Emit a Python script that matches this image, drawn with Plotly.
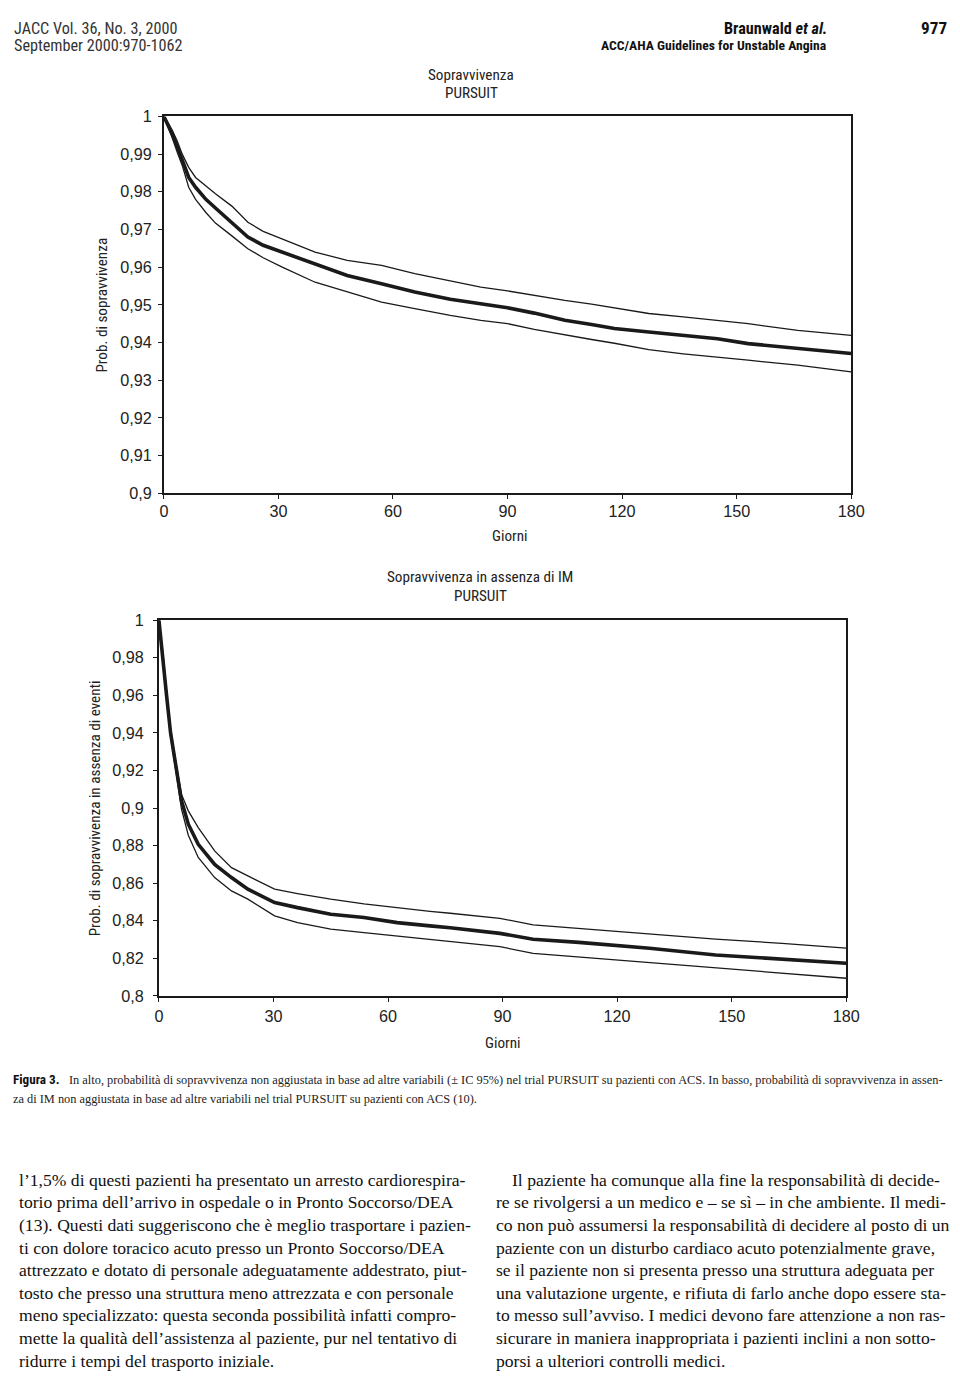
import plotly.graph_objects as go

W, H = 960, 1376

# ---------------- data ----------------
top_days = [0, 1, 2.2, 3.5, 4.8, 6.5, 8.3, 11, 13.5, 17.8, 22, 26, 31, 39.6, 48, 57,
            65.7, 75, 83, 90, 97, 105, 112, 118, 127, 136, 145, 153, 166, 180]
top_mean = [1.0, 0.998, 0.9953, 0.992, 0.9887, 0.9838, 0.9812, 0.978, 0.9757, 0.9717,
            0.968, 0.9658, 0.964, 0.961, 0.9578, 0.9556, 0.9534, 0.9515, 0.9503, 0.9492,
            0.9478, 0.9459, 0.9448, 0.9437, 0.9428, 0.9419, 0.941, 0.9397, 0.9384, 0.9371]
top_upper = [1.0, 0.9985, 0.9963, 0.9935, 0.990, 0.9865, 0.9838, 0.9815, 0.9795, 0.9762,
             0.9719, 0.9695, 0.9675, 0.964, 0.9618, 0.9605, 0.9583, 0.9563, 0.9547, 0.9537,
             0.9525, 0.9512, 0.9502, 0.9492, 0.9477, 0.9468, 0.9459, 0.945, 0.9432, 0.9419]
top_lower = [1.0, 0.9975, 0.9943, 0.9905, 0.987, 0.9812, 0.978, 0.9745, 0.9717, 0.9683,
             0.9649, 0.9625, 0.960, 0.956, 0.9534, 0.9507, 0.949, 0.9472, 0.9459, 0.945,
             0.9435, 0.942, 0.9408, 0.9398, 0.9381, 0.937, 0.936, 0.9353, 0.934, 0.9322]

bot_days = [0, 0.5, 1.1, 2.0, 3.05, 4.6, 5.9, 7.7, 10.3, 14.6, 19, 23.3, 30.3, 36.3, 45,
            53.7, 62.4, 71, 76.3, 89.3, 98, 110, 119.8, 128.5, 145.8, 163.2, 180]
bot_mean = [1.0, 0.991, 0.98, 0.96, 0.94, 0.92, 0.904, 0.8914, 0.8807, 0.870, 0.863,
            0.8568, 0.8497, 0.847, 0.8435, 0.8417, 0.839, 0.8373, 0.8363, 0.8333, 0.8302,
            0.8285, 0.8271, 0.8254, 0.8218, 0.8195, 0.8174]
bot_upper = [1.0, 0.9915, 0.9815, 0.962, 0.942, 0.9225, 0.9074, 0.8985, 0.8896, 0.8772,
             0.8683, 0.8639, 0.8568, 0.8545, 0.8515, 0.849, 0.8468, 0.845, 0.844, 0.8413,
             0.8378, 0.8358, 0.8342, 0.833, 0.8302, 0.828, 0.8254]
bot_lower = [1.0, 0.9905, 0.9785, 0.958, 0.938, 0.9175, 0.8995, 0.8855, 0.8737, 0.863,
             0.8559, 0.8515, 0.8426, 0.839, 0.8355, 0.8337, 0.8318, 0.8298, 0.8289, 0.8262,
             0.8227, 0.8208, 0.8191, 0.8178, 0.8148, 0.812, 0.8094]

x_ticks = [0, 30, 60, 90, 120, 150, 180]
top_yticks = [0.9, 0.91, 0.92, 0.93, 0.94, 0.95, 0.96, 0.97, 0.98, 0.99, 1]
top_yticktext = ["0,9", "0,91", "0,92", "0,93", "0,94", "0,95", "0,96", "0,97", "0,98", "0,99", "1"]
bot_yticks = [0.8, 0.82, 0.84, 0.86, 0.88, 0.9, 0.92, 0.94, 0.96, 0.98, 1]
bot_yticktext = ["0,8", "0,82", "0,84", "0,86", "0,88", "0,9", "0,92", "0,94", "0,96", "0,98", "1"]

header_left = ["JACC Vol. 36, No. 3, 2000", "September 2000:970-1062"]
caption_lines = [
    "In alto, probabilità di sopravvivenza non aggiustata in base ad altre variabili (± IC 95%) nel trial PURSUIT su pazienti con ACS. In basso, probabilità di sopravvivenza in assen-",
    "za di IM non aggiustata in base ad altre variabili nel trial PURSUIT su pazienti con ACS (10).",
]
left_col = [
    "l’1,5% di questi pazienti ha presentato un arresto cardiorespira-",
    "torio prima dell’arrivo in ospedale o in Pronto Soccorso/DEA",
    "(13). Questi dati suggeriscono che è meglio trasportare i pazien-",
    "ti con dolore toracico acuto presso un Pronto Soccorso/DEA",
    "attrezzato e dotato di personale adeguatamente addestrato, piut-",
    "tosto che presso una struttura meno attrezzata e con personale",
    "meno specializzato: questa seconda possibilità infatti compro-",
    "mette la qualità dell’assistenza al paziente, pur nel tentativo di",
    "ridurre i tempi del trasporto iniziale.",
]
right_col = [
    "Il paziente ha comunque alla fine la responsabilità di decide-",
    "re se rivolgersi a un medico e – se sì – in che ambiente. Il medi-",
    "co non può assumersi la responsabilità di decidere al posto di un",
    "paziente con un disturbo cardiaco acuto potenzialmente grave,",
    "se il paziente non si presenta presso una struttura adeguata per",
    "una valutazione urgente, e rifiuta di farlo anche dopo essere sta-",
    "to messo sull’avviso. I medici devono fare attenzione a non ras-",
    "sicurare in maniera inappropriata i pazienti inclini a non sotto-",
    "porsi a ulteriori controlli medici.",
]

# ---------------- styling ----------------
SANS_N = "Liberation Sans Narrow, Roboto Condensed, Liberation Sans, Arial, sans-serif"
SANS = "Liberation Sans, Arial, sans-serif"
SERIF = "Liberation Serif, Times New Roman, serif"
INK = "#1a1a1a"

# the page is shown slightly scaled/offset; map target screen pixels to figure paper coords
SX, OX = 0.9855, 10.3
SY, OY = 0.9875, 16.5
PAD = 3.5  # annotation inner padding (px)


def fx(x):
    return ((x - OX) / SX) / W


def fy(y):
    return 1 - ((y - OY) / SY) / H


def fs(s):
    return s / SY


fig = go.Figure()

for xa, ya, d, m, u, l in [("x", "y", top_days, top_mean, top_upper, top_lower),
                           ("x2", "y2", bot_days, bot_mean, bot_upper, bot_lower)]:
    fig.add_trace(go.Scatter(x=d, y=u, mode="lines", line=dict(color=INK, width=1.3),
                             xaxis=xa, yaxis=ya, showlegend=False, hoverinfo="skip"))
    fig.add_trace(go.Scatter(x=d, y=l, mode="lines", line=dict(color=INK, width=1.3),
                             xaxis=xa, yaxis=ya, showlegend=False, hoverinfo="skip"))
    fig.add_trace(go.Scatter(x=d, y=m, mode="lines", line=dict(color=INK, width=3.6),
                             xaxis=xa, yaxis=ya, showlegend=False))

axis_common = dict(showline=True, linecolor=INK, linewidth=2, mirror=True,
                   ticks="outside", ticklen=4, tickcolor=INK, tickwidth=1,
                   showgrid=False, zeroline=False,
                   tickfont=dict(family=SANS, size=fs(16), color="#222"))

fig.update_layout(
    width=W, height=H, margin=dict(l=0, r=0, t=0, b=0),
    paper_bgcolor="white", plot_bgcolor="white",
    xaxis=dict(domain=[fx(162), fx(853)], range=[0, 180], tickvals=x_ticks,
               anchor="y", ticklabelstandoff=-2, **axis_common),
    yaxis=dict(domain=[fy(493), fy(116)], range=[0.9, 1.0], tickvals=top_yticks,
               ticktext=top_yticktext, anchor="x", ticklabelstandoff=3, **axis_common),
    xaxis2=dict(domain=[fx(157), fx(848)], range=[0, 180], tickvals=x_ticks,
                anchor="y2", ticklabelstandoff=1, **axis_common),
    yaxis2=dict(domain=[fy(996), fy(620)], range=[0.8, 1.0], tickvals=bot_yticks,
                ticktext=bot_yticktext, anchor="x2", ticklabelstandoff=6, **axis_common),
)

anns = []


def ann(text, x, y, size, family=SANS_N, xanchor="left", angle=0, color="#222"):
    if angle == 0:
        if xanchor == "left":
            x -= PAD
        elif xanchor == "right":
            x += PAD
    anns.append(dict(text=text, x=fx(x), y=fy(y), xref="paper", yref="paper",
                     xanchor=xanchor, yanchor="middle", showarrow=False,
                     textangle=angle, font=dict(family=family, size=fs(size), color=color)))


# header (kept just inside the drawable area)
ann(header_left[0], 13, 28, 16, color="#333")
ann(header_left[1], 13, 45, 16, color="#333")
ann("<b>Braunwald <i>et al.</i></b>", 827, 28, 16, xanchor="right", color="#111")
ann("<b>977</b>", 948, 28, 17, xanchor="right", color="#111")
ann("<b>ACC/AHA Guidelines for Unstable Angina</b>", 827, 45, 13.5, xanchor="right", color="#111")

# chart titles / axis titles
ann("Sopravvivenza", 471, 75, 15, xanchor="center")
ann("PURSUIT", 471, 93, 15, xanchor="center")
ann("Giorni", 510, 536, 15, xanchor="center")
ann("Prob. di sopravvivenza", 100, 305, 15, xanchor="center", angle=-90)

ann("Sopravvivenza in assenza di IM", 480, 577, 15, xanchor="center")
ann("PURSUIT", 480, 596, 15, xanchor="center")
ann("Giorni", 503, 1043, 15, xanchor="center")
ann("Prob. di sopravvivenza in assenza di eventi", 93, 808, 15, xanchor="center", angle=-90)

# caption
ann("<b>Figura 3.</b>", 12, 1080, 13, color="#111")
ann(caption_lines[0], 68, 1080, 12.2, family=SERIF, color="#222")
ann(caption_lines[1], 12, 1099, 12.2, family=SERIF, color="#222")

# body columns
for i, line in enumerate(left_col):
    ann(line, 18, 1180 + 22.6 * i, 17.4, family=SERIF, color="#111")
for i, line in enumerate(right_col):
    ann(line, 513 if i == 0 else 497, 1180 + 22.6 * i, 17.4, family=SERIF, color="#111")

fig.update_layout(annotations=anns)
fig.write_html("out.html")
